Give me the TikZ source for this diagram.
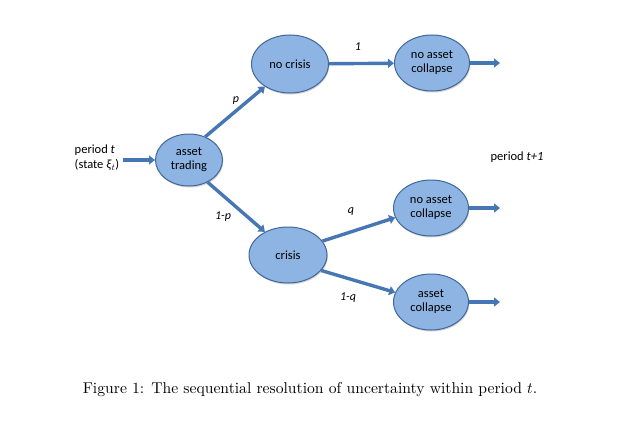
\documentclass[tikz,border=0pt]{standalone}
\usepackage{fontspec}
\newfontfamily\carl{Carlito}
\usetikzlibrary{arrows.meta,shadows,shapes.geometric}
\definecolor{efill}{HTML}{8EB4E3}
\definecolor{edraw}{HTML}{41679A}
\definecolor{arr}{HTML}{4677B4}
\begin{document}
\begin{tikzpicture}[x=1pt,y=-1pt,
  st/.style={ellipse,draw=edraw,line width=1pt,fill=efill,inner sep=0pt,
     minimum width=75pt,minimum height=56pt,align=center,
     font=\carl\fontsize{12.5}{14}\selectfont,
     drop shadow={shadow xshift=0.8pt,shadow yshift=-1.5pt,opacity=0.35}},
  ar/.style={draw=arr,line width=3.4pt,-{Triangle[length=6pt,width=9pt]}},
  lab/.style={font=\carl\itshape\fontsize{12}{13}\selectfont,inner sep=0pt},
  txt/.style={font=\carl\fontsize{12.5}{15}\selectfont,inner sep=0pt,align=left}]
\useasboundingbox (0,0) rectangle (636,420);
\fill[white] (0,0) rectangle (636,420);
\node[st,minimum width=67pt,minimum height=52pt] (at) at (189,160) {asset\\trading};
\node[st,minimum width=77pt,minimum height=58pt] (nc) at (290,64) {no crisis};
\node[st,minimum width=75pt,minimum height=56pt] (nac1) at (432,63) {no asset\\collapse};
\node[st,minimum width=78pt,minimum height=56pt] (cr) at (288,255) {crisis};
\node[st] (nac2) at (431,208) {no asset\\collapse};
\node[st] (ac) at (431,302) {asset\\collapse};
\node[txt] (pt) at (97,158) {period \textit{t}\\(state \textit{ξ}$_{\scriptstyle t}$)};
\node[txt] (pt1) at (517,157) {period \textit{t+1}};
\coordinate (s0) at (123,160);
\coordinate (o1) at (500,63);
\coordinate (o2) at (500,208);
\coordinate (o3) at (500,302);
\draw[ar] (s0) -- (at);
\draw[ar] (at.55) -- (nc.222);
\draw[ar] (at.-50) -- (cr.135);
\draw[ar] (nc) -- (nac1);
\draw[ar] (nac1) -- (o1);
\draw[ar] (cr.22) -- (nac2.195);
\draw[ar] (cr.-25) -- (ac.165);
\draw[ar] (nac2) -- (o2);
\draw[ar] (ac) -- (o3);
\node[lab] (lp) at (236,101) {p};
\node[lab] (l1) at (358,47) {1};
\node[lab] (l1p) at (223,217) {1-p};
\node[lab] (lq) at (351,212) {q};
\node[lab] (l1q) at (348,298) {1-q};
\node[inner sep=0pt,scale=1.565,font=\fontsize{10}{12}\selectfont] (cap) at (310,390) {Figure 1: The sequential resolution of uncertainty within period $t$.};
\end{tikzpicture}
\end{document}
